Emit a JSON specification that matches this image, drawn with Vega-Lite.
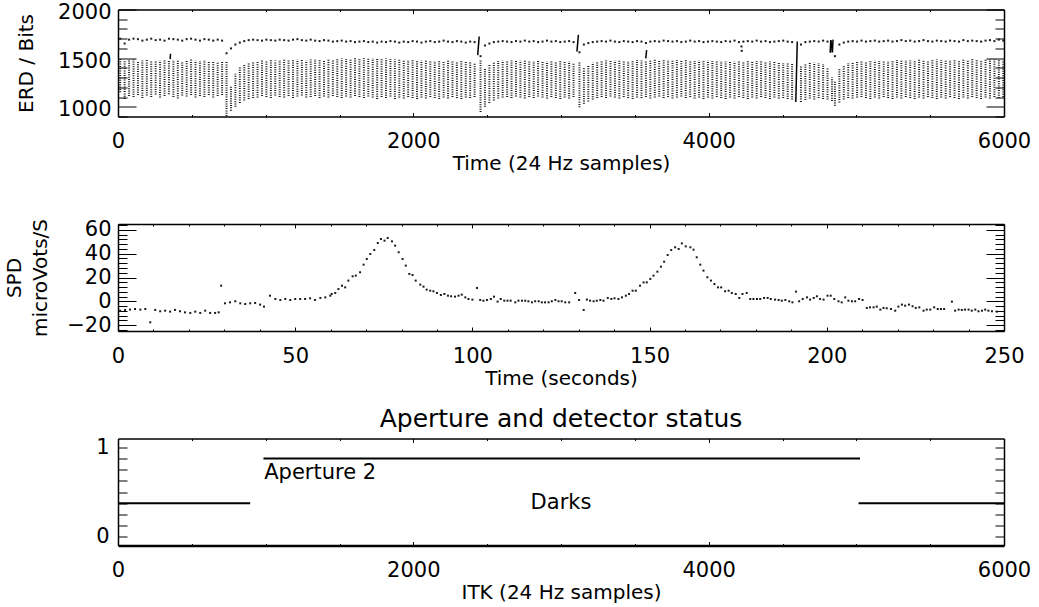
{
  "$schema": "https://vega.github.io/schema/vega-lite/v6.json",
  "padding": {"left": 4, "top": 1.5, "right": 5, "bottom": 5},
  "config": {
    "font": "DejaVu Sans",
    "view": {"stroke": null},
    "axis": {"grid": false, "domainColor": "#000", "domainWidth": 1.5, "tickColor": "#000", "tickWidth": 1, "labelColor": "#000", "titleColor": "#000", "labelFontSize": 21, "titleFontSize": 20, "titleFontWeight": "normal", "labelFont": "DejaVu Sans", "titleFont": "DejaVu Sans", "labelOverlap": false, "labelFlush": false, "labelBound": false},
    "title": {"fontSize": 25, "fontWeight": "normal", "font": "DejaVu Sans", "color": "#000"}
  },
  "spacing": 107.5,
  "bounds": "flush",
  "datasets": {
    "cols": [
      {"t":15,"hi":1490,"lo":1150},{"t":45,"hi":1470,"lo":1080},{"t":75,"hi":1480,"lo":1110},{"t":105,"hi":1485,"lo":1100},{"t":135,"hi":1470,"lo":1120},{"t":165,"hi":1475,"lo":1090},{"t":195,"hi":1480,"lo":1115},{"t":225,"hi":1470,"lo":1100},{"t":255,"hi":1465,"lo":1125},{"t":285,"hi":1475,"lo":1095},{"t":315,"hi":1480,"lo":1110},{"t":345,"hi":1470,"lo":1130},{"t":375,"hi":1480,"lo":1100},{"t":405,"hi":1475,"lo":1085},{"t":435,"hi":1470,"lo":1115},{"t":465,"hi":1480,"lo":1105},{"t":495,"hi":1485,"lo":1120},{"t":525,"hi":1475,"lo":1095},{"t":555,"hi":1470,"lo":1110},{"t":585,"hi":1480,"lo":1100},{"t":615,"hi":1475,"lo":1120},{"t":645,"hi":1470,"lo":1095},{"t":675,"hi":1465,"lo":1110},{"t":705,"hi":1460,"lo":1120},
      {"t":735,"hi":1460,"lo":905},{"t":765,"hi":1220,"lo":960},{"t":795,"hi":1340,"lo":1000},{"t":825,"hi":1410,"lo":1040},{"t":855,"hi":1440,"lo":1065},{"t":885,"hi":1455,"lo":1080},{"t":915,"hi":1465,"lo":1090},
      {"t":945,"hi":1470,"lo":1095},{"t":975,"hi":1475,"lo":1110},{"t":1005,"hi":1470,"lo":1100},{"t":1035,"hi":1480,"lo":1090},{"t":1065,"hi":1475,"lo":1115},{"t":1095,"hi":1480,"lo":1100},{"t":1125,"hi":1485,"lo":1095},{"t":1155,"hi":1475,"lo":1110},{"t":1185,"hi":1480,"lo":1090},{"t":1215,"hi":1485,"lo":1105},{"t":1245,"hi":1480,"lo":1115},{"t":1275,"hi":1475,"lo":1095},{"t":1305,"hi":1485,"lo":1100},{"t":1335,"hi":1490,"lo":1110},{"t":1365,"hi":1485,"lo":1090},{"t":1395,"hi":1480,"lo":1105},{"t":1425,"hi":1490,"lo":1095},{"t":1455,"hi":1485,"lo":1110},{"t":1485,"hi":1490,"lo":1100},{"t":1515,"hi":1495,"lo":1090},{"t":1545,"hi":1490,"lo":1105},{"t":1575,"hi":1495,"lo":1095},{"t":1605,"hi":1500,"lo":1110},{"t":1635,"hi":1495,"lo":1100},{"t":1665,"hi":1500,"lo":1090},{"t":1695,"hi":1495,"lo":1105},{"t":1725,"hi":1500,"lo":1095},{"t":1755,"hi":1495,"lo":1080},{"t":1785,"hi":1490,"lo":1100},{"t":1815,"hi":1495,"lo":1090},{"t":1845,"hi":1490,"lo":1105},{"t":1875,"hi":1485,"lo":1080},{"t":1905,"hi":1490,"lo":1095},{"t":1935,"hi":1485,"lo":1085},{"t":1965,"hi":1480,"lo":1100},{"t":1995,"hi":1485,"lo":1090},{"t":2025,"hi":1480,"lo":1080},{"t":2055,"hi":1475,"lo":1095},{"t":2085,"hi":1480,"lo":1085},{"t":2115,"hi":1475,"lo":1100},{"t":2145,"hi":1470,"lo":1090},{"t":2175,"hi":1475,"lo":1080},{"t":2205,"hi":1470,"lo":1095},{"t":2235,"hi":1475,"lo":1085},{"t":2265,"hi":1470,"lo":1100},{"t":2295,"hi":1465,"lo":1090},{"t":2325,"hi":1470,"lo":1080},{"t":2355,"hi":1465,"lo":1095},{"t":2385,"hi":1460,"lo":1090},{"t":2415,"hi":1455,"lo":1100},
      {"t":2455,"hi":1475,"lo":945},{"t":2485,"hi":1390,"lo":1000},{"t":2515,"hi":1440,"lo":1040},{"t":2545,"hi":1460,"lo":1065},{"t":2575,"hi":1470,"lo":1085},{"t":2605,"hi":1475,"lo":1095},{"t":2635,"hi":1470,"lo":1100},{"t":2665,"hi":1475,"lo":1090},{"t":2695,"hi":1470,"lo":1105},{"t":2725,"hi":1475,"lo":1095},{"t":2755,"hi":1480,"lo":1085},{"t":2785,"hi":1475,"lo":1100},{"t":2815,"hi":1470,"lo":1090},{"t":2845,"hi":1475,"lo":1105},{"t":2875,"hi":1470,"lo":1095},{"t":2905,"hi":1465,"lo":1085},{"t":2935,"hi":1470,"lo":1100},{"t":2965,"hi":1465,"lo":1090},{"t":2995,"hi":1470,"lo":1080},{"t":3025,"hi":1460,"lo":1095},{"t":3055,"hi":1465,"lo":1085},{"t":3085,"hi":1455,"lo":1100},
      {"t":3125,"hi":1460,"lo":995},{"t":3155,"hi":1400,"lo":1030},{"t":3185,"hi":1435,"lo":1055},{"t":3215,"hi":1455,"lo":1075},{"t":3245,"hi":1465,"lo":1090},{"t":3275,"hi":1470,"lo":1100},{"t":3305,"hi":1475,"lo":1090},{"t":3335,"hi":1470,"lo":1105},{"t":3365,"hi":1475,"lo":1095},{"t":3395,"hi":1480,"lo":1085},{"t":3425,"hi":1475,"lo":1100},{"t":3455,"hi":1470,"lo":1090},{"t":3485,"hi":1475,"lo":1080},{"t":3515,"hi":1480,"lo":1095},{"t":3545,"hi":1475,"lo":1090},{"t":3575,"hi":1470,"lo":1100},{"t":3605,"hi":1480,"lo":1085},{"t":3635,"hi":1485,"lo":1095},{"t":3665,"hi":1480,"lo":1105},{"t":3695,"hi":1485,"lo":1090},{"t":3725,"hi":1480,"lo":1100},{"t":3755,"hi":1485,"lo":1085},{"t":3785,"hi":1480,"lo":1095},{"t":3815,"hi":1475,"lo":1105},{"t":3845,"hi":1480,"lo":1090},{"t":3875,"hi":1475,"lo":1100},{"t":3905,"hi":1470,"lo":1085},{"t":3935,"hi":1475,"lo":1095},{"t":3965,"hi":1470,"lo":1080},{"t":3995,"hi":1475,"lo":1095},{"t":4025,"hi":1470,"lo":1085},{"t":4055,"hi":1475,"lo":1100},{"t":4085,"hi":1470,"lo":1090},{"t":4115,"hi":1465,"lo":1080},{"t":4145,"hi":1470,"lo":1095},{"t":4175,"hi":1465,"lo":1085},{"t":4205,"hi":1470,"lo":1100},{"t":4235,"hi":1465,"lo":1090},{"t":4265,"hi":1470,"lo":1080},{"t":4295,"hi":1465,"lo":1095},{"t":4325,"hi":1470,"lo":1085},{"t":4355,"hi":1465,"lo":1100},{"t":4385,"hi":1460,"lo":1090},{"t":4415,"hi":1465,"lo":1080},{"t":4445,"hi":1460,"lo":1095},{"t":4475,"hi":1455,"lo":1085},{"t":4505,"hi":1450,"lo":1090},{"t":4535,"hi":1445,"lo":1080},{"t":4565,"hi":1440,"lo":1075},
      {"t":4625,"hi":1420,"lo":1050},{"t":4655,"hi":1435,"lo":1070},{"t":4685,"hi":1450,"lo":1085},{"t":4715,"hi":1455,"lo":1075},{"t":4745,"hi":1450,"lo":1090},{"t":4775,"hi":1440,"lo":1080},{"t":4805,"hi":1400,"lo":1075},{"t":4835,"hi":1300,"lo":1060},{"t":4855,"hi":1270,"lo":1010},{"t":4885,"hi":1390,"lo":1045},{"t":4915,"hi":1430,"lo":1075},{"t":4945,"hi":1450,"lo":1090},{"t":4975,"hi":1460,"lo":1085},{"t":5005,"hi":1465,"lo":1095},
      {"t":5035,"hi":1470,"lo":1100},{"t":5065,"hi":1465,"lo":1090},{"t":5095,"hi":1470,"lo":1080},{"t":5125,"hi":1475,"lo":1095},{"t":5155,"hi":1470,"lo":1085},{"t":5185,"hi":1475,"lo":1100},{"t":5215,"hi":1470,"lo":1090},{"t":5245,"hi":1475,"lo":1080},{"t":5275,"hi":1480,"lo":1095},{"t":5305,"hi":1475,"lo":1085},{"t":5335,"hi":1480,"lo":1100},{"t":5365,"hi":1475,"lo":1090},{"t":5395,"hi":1480,"lo":1080},{"t":5425,"hi":1485,"lo":1095},{"t":5455,"hi":1480,"lo":1085},{"t":5485,"hi":1475,"lo":1100},{"t":5515,"hi":1480,"lo":1090},{"t":5545,"hi":1485,"lo":1080},{"t":5575,"hi":1480,"lo":1095},{"t":5605,"hi":1475,"lo":1085},{"t":5635,"hi":1480,"lo":1100},{"t":5665,"hi":1485,"lo":1090},{"t":5695,"hi":1480,"lo":1080},{"t":5725,"hi":1485,"lo":1095},{"t":5755,"hi":1480,"lo":1085},{"t":5785,"hi":1490,"lo":1100},{"t":5815,"hi":1485,"lo":1090},{"t":5845,"hi":1480,"lo":1080},{"t":5875,"hi":1485,"lo":1095},{"t":5905,"hi":1490,"lo":1085},{"t":5935,"hi":1485,"lo":1100},{"t":5965,"hi":1490,"lo":1090},{"t":5995,"hi":1480,"lo":1100}
    ],
    "dots": [
      {"t":15,"v":1700},{"t":45,"v":1650},{"t":75,"v":1690},{"t":105,"v":1700},{"t":135,"v":1695},{"t":165,"v":1680},{"t":195,"v":1690},{"t":225,"v":1700},{"t":255,"v":1685},{"t":285,"v":1690},{"t":315,"v":1680},{"t":345,"v":1700},{"t":375,"v":1695},{"t":405,"v":1690},{"t":435,"v":1680},{"t":465,"v":1695},{"t":495,"v":1700},{"t":525,"v":1690},{"t":555,"v":1680},{"t":585,"v":1695},{"t":615,"v":1690},{"t":645,"v":1680},{"t":675,"v":1690},{"t":705,"v":1680},
      {"t":735,"v":1550},{"t":765,"v":1600},{"t":795,"v":1640},{"t":825,"v":1660},{"t":855,"v":1675},{"t":885,"v":1685},{"t":915,"v":1690},
      {"t":945,"v":1685},{"t":975,"v":1680},{"t":1005,"v":1690},{"t":1035,"v":1685},{"t":1065,"v":1680},{"t":1095,"v":1690},{"t":1125,"v":1685},{"t":1155,"v":1680},{"t":1185,"v":1690},{"t":1215,"v":1695},{"t":1245,"v":1685},{"t":1275,"v":1680},{"t":1305,"v":1690},{"t":1335,"v":1680},{"t":1365,"v":1675},{"t":1395,"v":1685},{"t":1425,"v":1680},{"t":1455,"v":1670},{"t":1485,"v":1675},{"t":1515,"v":1680},{"t":1545,"v":1670},{"t":1575,"v":1675},{"t":1605,"v":1665},{"t":1635,"v":1670},{"t":1665,"v":1675},{"t":1695,"v":1665},{"t":1725,"v":1670},{"t":1755,"v":1660},{"t":1785,"v":1670},{"t":1815,"v":1665},{"t":1845,"v":1675},{"t":1875,"v":1670},{"t":1905,"v":1660},{"t":1935,"v":1670},{"t":1965,"v":1665},{"t":1995,"v":1675},{"t":2025,"v":1670},{"t":2055,"v":1660},{"t":2085,"v":1670},{"t":2115,"v":1675},{"t":2145,"v":1665},{"t":2175,"v":1670},{"t":2205,"v":1680},{"t":2235,"v":1670},{"t":2265,"v":1665},{"t":2295,"v":1675},{"t":2325,"v":1670},{"t":2355,"v":1660},{"t":2385,"v":1670},{"t":2415,"v":1665},
      {"t":2455,"v":1520},{"t":2485,"v":1630},{"t":2515,"v":1650},{"t":2545,"v":1665},{"t":2575,"v":1670},{"t":2605,"v":1675},{"t":2635,"v":1670},{"t":2665,"v":1665},{"t":2695,"v":1675},{"t":2725,"v":1670},{"t":2755,"v":1680},{"t":2785,"v":1670},{"t":2815,"v":1675},{"t":2845,"v":1665},{"t":2875,"v":1670},{"t":2905,"v":1680},{"t":2935,"v":1670},{"t":2965,"v":1675},{"t":2995,"v":1665},{"t":3025,"v":1670},{"t":3055,"v":1675},{"t":3085,"v":1665},
      {"t":3125,"v":1560},{"t":3155,"v":1640},{"t":3185,"v":1655},{"t":3215,"v":1665},{"t":3245,"v":1670},{"t":3275,"v":1675},{"t":3305,"v":1670},{"t":3335,"v":1680},{"t":3365,"v":1670},{"t":3395,"v":1665},{"t":3425,"v":1675},{"t":3455,"v":1670},{"t":3485,"v":1665},{"t":3515,"v":1675},{"t":3545,"v":1670},{"t":3575,"v":1655},{"t":3605,"v":1670},{"t":3635,"v":1675},{"t":3665,"v":1670},{"t":3695,"v":1680},{"t":3725,"v":1675},{"t":3755,"v":1670},{"t":3785,"v":1675},{"t":3815,"v":1665},{"t":3845,"v":1670},{"t":3875,"v":1680},{"t":3905,"v":1670},{"t":3935,"v":1675},{"t":3965,"v":1665},{"t":3995,"v":1670},{"t":4025,"v":1675},{"t":4055,"v":1670},{"t":4085,"v":1665},{"t":4115,"v":1675},{"t":4145,"v":1670},{"t":4175,"v":1680},{"t":4205,"v":1665},{"t":4222,"v":1620},{"t":4224,"v":1575},{"t":4235,"v":1670},{"t":4265,"v":1675},{"t":4295,"v":1670},{"t":4325,"v":1680},{"t":4355,"v":1670},{"t":4385,"v":1675},{"t":4415,"v":1665},{"t":4445,"v":1670},{"t":4475,"v":1675},{"t":4505,"v":1680},{"t":4535,"v":1670},{"t":4565,"v":1665},
      {"t":4625,"v":1640},{"t":4655,"v":1665},{"t":4685,"v":1670},{"t":4715,"v":1675},{"t":4745,"v":1670},{"t":4775,"v":1680},{"t":4805,"v":1670},{"t":4855,"v":1520},{"t":4885,"v":1640},{"t":4915,"v":1660},{"t":4945,"v":1670},{"t":4975,"v":1675},{"t":5005,"v":1670},
      {"t":5035,"v":1680},{"t":5065,"v":1670},{"t":5095,"v":1675},{"t":5125,"v":1680},{"t":5155,"v":1670},{"t":5185,"v":1675},{"t":5215,"v":1680},{"t":5245,"v":1670},{"t":5275,"v":1675},{"t":5305,"v":1685},{"t":5335,"v":1675},{"t":5365,"v":1680},{"t":5395,"v":1670},{"t":5425,"v":1675},{"t":5455,"v":1685},{"t":5485,"v":1675},{"t":5515,"v":1670},{"t":5545,"v":1680},{"t":5575,"v":1675},{"t":5605,"v":1670},{"t":5635,"v":1680},{"t":5665,"v":1675},{"t":5695,"v":1670},{"t":5725,"v":1685},{"t":5755,"v":1675},{"t":5785,"v":1680},{"t":5815,"v":1675},{"t":5845,"v":1670},{"t":5875,"v":1680},{"t":5905,"v":1685},{"t":5935,"v":1675},{"t":5965,"v":1690},{"t":5995,"v":1680}
    ],
    "spikes": [
      {"t1":353,"t2":356,"v1":1490,"v2":1545},
      {"t1":2436,"t2":2446,"v1":1531,"v2":1723},
      {"t1":3108,"t2":3118,"v1":1567,"v2":1740},
      {"t1":3574,"t2":3580,"v1":1497,"v2":1583},
      {"t1":4590,"t2":4600,"v1":1050,"v2":1672},
      {"t1":4823,"t2":4827,"v1":1555,"v2":1685},
      {"t1":4827,"t2":4838,"v1":1685,"v2":1560},
      {"t1":4838,"t2":4842,"v1":1560,"v2":1690}
    ],
    "spd": [
      {"s":0.6,"v":-7.9},{"s":2.0,"v":-7.3},{"s":3.4,"v":-7.0},{"s":4.8,"v":-6.5},{"s":6.3,"v":-7.0},{"s":7.7,"v":-6.5},{"s":9.1,"v":-17.7},{"s":10.5,"v":-7.3},{"s":11.9,"v":-8.4},{"s":13.3,"v":-7.9},{"s":14.7,"v":-8.7},{"s":16.1,"v":-7.3},{"s":17.5,"v":-8.4},{"s":18.9,"v":-9.3},{"s":20.4,"v":-9.8},{"s":21.8,"v":-8.7},{"s":23.2,"v":-9.8},{"s":24.6,"v":-7.9},{"s":26.0,"v":-9.8},{"s":27.4,"v":-9.8},{"s":28.4,"v":-9.3},{"s":29.1,"v":13.1},
      {"s":30.2,"v":-1.7},{"s":31.6,"v":-0.9},{"s":33.1,"v":0.0},{"s":34.5,"v":-1.7},{"s":35.9,"v":-2.3},{"s":37.3,"v":-1.7},{"s":38.7,"v":-1.4},{"s":40.1,"v":-2.8},{"s":41.2,"v":-4.5},{"s":42.9,"v":4.7},{"s":44.4,"v":1.9},{"s":45.8,"v":1.1},{"s":47.2,"v":1.9},{"s":48.6,"v":1.1},{"s":50.0,"v":1.9},{"s":51.4,"v":1.9},{"s":52.8,"v":1.9},{"s":54.2,"v":2.5},{"s":55.6,"v":1.1},{"s":57.1,"v":2.8},{"s":58.5,"v":3.3},{"s":59.9,"v":4.7},
      {"s":60.3,"v":6.1},{"s":61.3,"v":7.0},{"s":62.2,"v":10.3},{"s":63.2,"v":13.1},{"s":64.1,"v":11.7},{"s":65.0,"v":17.4},{"s":66.2,"v":21.0},{"s":67.1,"v":21.6},{"s":68.3,"v":24.4},{"s":69.3,"v":30.8},{"s":70.2,"v":35.6},{"s":71.2,"v":39.8},{"s":72.3,"v":43.1},{"s":73.3,"v":49.0},{"s":74.2,"v":52.4},{"s":75.2,"v":51.0},{"s":76.1,"v":53.2},{"s":77.3,"v":50.4},{"s":78.2,"v":46.8},{"s":79.2,"v":41.2},{"s":80.3,"v":35.6},{"s":81.2,"v":30.0},{"s":82.2,"v":23.0},{"s":83.1,"v":22.1},{"s":84.0,"v":17.4},{"s":85.3,"v":14.0},{"s":86.2,"v":12.3},{"s":87.1,"v":9.8},{"s":88.1,"v":8.9},{"s":89.0,"v":8.4},{"s":90.0,"v":7.0},{"s":91.1,"v":5.3},{"s":92.1,"v":6.1},{"s":93.1,"v":4.7},{"s":94.0,"v":4.2},{"s":95.1,"v":3.9},{"s":96.1,"v":4.7},{"s":97.0,"v":5.6},{"s":98.0,"v":3.3},{"s":98.9,"v":1.9},{"s":100.0,"v":1.4},{"s":101.3,"v":11.2},{"s":102.2,"v":1.1},{"s":103.1,"v":0.5},{"s":104.1,"v":1.1},{"s":105.2,"v":1.9},{"s":106.1,"v":3.9},{"s":107.1,"v":-0.3},{"s":108.0,"v":1.9},{"s":109.0,"v":0.5},{"s":109.9,"v":0.5},{"s":110.8,"v":0.5},{"s":112.1,"v":-0.9},{"s":113.0,"v":0.5},{"s":114.0,"v":0.5},{"s":114.9,"v":0.5},{"s":115.8,"v":0.0},{"s":116.8,"v":-0.9},{"s":117.7,"v":0.0},{"s":118.7,"v":0.0},{"s":119.6,"v":-0.9},{"s":120.5,"v":-0.9},{"s":121.5,"v":-0.9},{"s":122.4,"v":0.0},{"s":123.4,"v":1.1},{"s":124.3,"v":0.0},{"s":125.2,"v":0.0},{"s":126.2,"v":-0.9},{"s":127.3,"v":-0.9},{"s":129.0,"v":7.0},{"s":130.1,"v":1.1},{"s":131.4,"v":-7.3},{"s":132.3,"v":1.4},{"s":133.2,"v":0.5},{"s":134.2,"v":0.0},{"s":135.1,"v":0.5},{"s":136.1,"v":1.1},{"s":137.0,"v":0.5},{"s":138.2,"v":2.8},{"s":139.2,"v":1.9},{"s":140.1,"v":2.5},{"s":141.2,"v":1.9},{"s":142.2,"v":3.3},{"s":143.3,"v":4.7},{"s":144.2,"v":6.1},{"s":145.2,"v":8.9},{"s":146.1,"v":8.9},{"s":147.3,"v":13.1},{"s":148.3,"v":15.9},{"s":149.2,"v":15.9},{"s":150.2,"v":18.8},{"s":151.1,"v":21.6},{"s":152.2,"v":24.9},{"s":153.2,"v":29.1},{"s":154.1,"v":33.3},{"s":155.1,"v":38.9},{"s":156.1,"v":43.1},{"s":157.2,"v":45.4},{"s":158.2,"v":44.0},
      {"s":159.1,"v":48.7},{"s":160.2,"v":46.2},{"s":161.5,"v":45.4},{"s":162.4,"v":43.4},{"s":163.3,"v":37.0},{"s":164.3,"v":30.8},{"s":165.2,"v":25.8},{"s":166.3,"v":20.2},{"s":167.3,"v":17.4},{"s":168.3,"v":14.5},{"s":169.3,"v":11.7},{"s":170.2,"v":11.7},{"s":171.3,"v":8.4},{"s":172.3,"v":8.9},{"s":173.2,"v":7.0},{"s":174.3,"v":6.1},{"s":175.3,"v":2.8},{"s":176.2,"v":6.1},{"s":177.4,"v":7.0},{"s":178.4,"v":1.9},{"s":179.3,"v":1.9},{"s":180.3,"v":1.9},{"s":181.2,"v":1.9},{"s":182.3,"v":2.8},{"s":183.3,"v":2.8},{"s":184.2,"v":1.9},{"s":185.4,"v":1.4},{"s":186.4,"v":1.1},{"s":187.3,"v":0.5},{"s":188.3,"v":1.1},{"s":189.4,"v":0.0},{"s":190.3,"v":-0.9},{"s":191.3,"v":8.1},{"s":192.2,"v":0.0},{"s":193.2,"v":1.9},{"s":194.4,"v":3.3},{"s":195.3,"v":1.4},{"s":196.3,"v":2.8},{"s":197.2,"v":4.2},{"s":198.1,"v":1.9},{"s":199.1,"v":1.4},{"s":200.2,"v":4.7},{"s":201.1,"v":4.7},{"s":202.1,"v":1.9},{"s":203.3,"v":0.0},{"s":204.2,"v":-0.9},{"s":205.2,"v":3.3},{"s":206.1,"v":0.5},{"s":207.1,"v":0.0},{"s":208.0,"v":0.0},{"s":209.1,"v":1.9},{"s":210.1,"v":1.1},
      {"s":211.3,"v":-5.6},{"s":212.2,"v":-5.1},{"s":213.2,"v":-5.1},{"s":214.1,"v":-4.5},{"s":215.1,"v":-7.0},{"s":216.0,"v":-5.6},{"s":216.9,"v":-5.9},{"s":218.1,"v":-6.5},{"s":219.3,"v":-7.9},{"s":220.2,"v":-4.5},{"s":221.2,"v":-2.8},{"s":222.1,"v":-3.7},{"s":223.2,"v":-2.8},{"s":224.2,"v":-4.2},{"s":225.1,"v":-5.6},{"s":226.1,"v":-5.1},{"s":227.3,"v":-7.9},{"s":228.2,"v":-7.0},{"s":229.2,"v":-7.0},{"s":230.3,"v":-5.1},{"s":231.3,"v":-6.5},{"s":232.2,"v":-6.5},{"s":233.1,"v":-6.5},{"s":235.3,"v":-0.3},{"s":236.2,"v":-7.9},{"s":237.2,"v":-7.0},{"s":238.1,"v":-7.3},{"s":239.0,"v":-7.0},{"s":240.0,"v":-7.0},{"s":240.9,"v":-7.9},{"s":241.9,"v":-7.0},{"s":242.8,"v":-8.4},{"s":243.8,"v":-7.9},{"s":244.7,"v":-7.0},{"s":245.6,"v":-7.9},{"s":246.6,"v":-8.4},{"s":248.0,"v":-8.7}
    ],
    "lines3": [
      {"x1":0,"x2":895,"y":0.375},
      {"x1":985,"x2":5025,"y":0.875},
      {"x1":5015,"x2":6000,"y":0.375}
    ],
    "lab1": [{"x":990,"y":0.714,"text":"Aperture 2"}],
    "lab2": [{"x":3000,"y":0.378,"text":"Darks"}]
  },
  "vconcat": [
    {
      "width": 886,
      "height": 107,
      "resolve": {"axis": {"x": "independent", "y": "independent"}},
      "layer": [
        {
          "data": {"name": "cols"},
          "mark": {"type": "rule", "strokeWidth": 2, "strokeDash": [1, 1.3], "color": "#1a1a1a"},
          "encoding": {
            "x": {"field": "t", "type": "quantitative", "scale": {"domain": [0, 6000], "nice": false, "zero": false},
              "axis": {"orient": "bottom", "values": [0,500,1000,1500,2000,2500,3000,3500,4000,4500,5000,5500,6000], "format": "d", "labelExpr": "datum.value % 2000 === 0 ? datum.label : ''", "tickSize": {"condition": {"test": "datum.value % 2000 === 0", "value": -4}, "value": -2}, "labelPadding": 18, "title": "Time (24 Hz samples)", "titlePadding": 0}},
            "y": {"field": "lo", "type": "quantitative", "scale": {"domain": [900, 2000], "nice": false, "zero": false},
              "axis": {"orient": "left", "values": [900,1000,1100,1200,1300,1400,1500,1600,1700,1800,1900,2000], "format": "d", "labelExpr": "datum.value % 500 === 0 ? datum.label : ''", "tickSize": {"condition": {"test": "datum.value % 500 === 0", "value": -18}, "value": -9}, "labelPadding": 25, "labelOffset": 3, "title": "ERD / Bits", "titlePadding": 21}},
            "y2": {"field": "hi"}
          }
        },
        {
          "data": {"name": "dots"},
          "mark": {"type": "square", "size": 4, "color": "#1a1a1a", "opacity": 1},
          "encoding": {
            "x": {"field": "t", "type": "quantitative", "axis": {"orient": "top", "values": [0,500,1000,1500,2000,2500,3000,3500,4000,4500,5000,5500,6000], "labels": false, "title": null, "tickSize": {"condition": {"test": "datum.value % 2000 === 0", "value": -4}, "value": -2}}},
            "y": {"field": "v", "type": "quantitative", "axis": {"orient": "right", "values": [900,1000,1100,1200,1300,1400,1500,1600,1700,1800,1900,2000], "labels": false, "title": null, "tickSize": {"condition": {"test": "datum.value % 500 === 0", "value": -18}, "value": -9}}}
          }
        },
        {
          "data": {"name": "spikes"},
          "mark": {"type": "rule", "strokeWidth": 1.5, "color": "#000"},
          "encoding": {
            "x": {"field": "t1", "type": "quantitative", "axis": null},
            "x2": {"field": "t2"},
            "y": {"field": "v1", "type": "quantitative", "axis": null},
            "y2": {"field": "v2"}
          }
        }
      ]
    },
    {
      "width": 886,
      "height": 107,
      "resolve": {"axis": {"x": "independent", "y": "independent"}},
      "layer": [
        {
          "data": {"name": "spd"},
          "mark": {"type": "square", "size": 4, "color": "#1a1a1a", "opacity": 1},
          "encoding": {
            "x": {"field": "s", "type": "quantitative", "scale": {"domain": [0, 250], "nice": false, "zero": false},
              "axis": {"orient": "bottom", "values": [0,10,20,30,40,50,60,70,80,90,100,110,120,130,140,150,160,170,180,190,200,210,220,230,240,250], "format": "d", "labelExpr": "datum.value % 50 === 0 ? datum.label : ''", "tickSize": {"condition": {"test": "datum.value % 50 === 0", "value": -4}, "value": -2}, "labelPadding": 18, "title": "Time (seconds)", "titlePadding": 0}},
            "y": {"field": "v", "type": "quantitative", "scale": {"domain": [-25, 65], "nice": false, "zero": false},
              "axis": {"orient": "left", "values": [-24,-20,-16,-12,-8,-4,0,4,8,12,16,20,24,28,32,36,40,44,48,52,56,60,64], "format": "d", "labelExpr": "datum.value % 20 === 0 ? datum.label : ''", "tickSize": {"condition": {"test": "datum.value % 20 === 0", "value": -18}, "value": -9}, "labelPadding": 25, "title": ["SPD", "microVots/S"], "titleLineHeight": 26, "titlePadding": 16.5}}
          }
        },
        {
          "data": {"name": "spd"},
          "mark": {"type": "square", "size": 4, "color": "#1a1a1a", "opacity": 0},
          "encoding": {
            "x": {"field": "s", "type": "quantitative", "axis": {"orient": "top", "values": [0,10,20,30,40,50,60,70,80,90,100,110,120,130,140,150,160,170,180,190,200,210,220,230,240,250], "labels": false, "title": null, "tickSize": {"condition": {"test": "datum.value % 50 === 0", "value": -4}, "value": -2}}},
            "y": {"field": "v", "type": "quantitative", "axis": {"orient": "right", "values": [-24,-20,-16,-12,-8,-4,0,4,8,12,16,20,24,28,32,36,40,44,48,52,56,60,64], "labels": false, "title": null, "tickSize": {"condition": {"test": "datum.value % 20 === 0", "value": -18}, "value": -9}}}
          }
        }
      ]
    },
    {
      "width": 886,
      "height": 107,
      "title": {"text": "Aperture and detector status", "frame": "group", "anchor": "middle", "offset": 4},
      "resolve": {"axis": {"x": "independent", "y": "independent"}},
      "layer": [
        {
          "data": {"name": "lines3"},
          "mark": {"type": "rule", "strokeWidth": 2, "color": "#000"},
          "encoding": {
            "x": {"field": "x1", "type": "quantitative", "scale": {"domain": [0, 6000], "nice": false, "zero": false},
              "axis": {"orient": "bottom", "values": [0,500,1000,1500,2000,2500,3000,3500,4000,4500,5000,5500,6000], "format": "d", "labelExpr": "datum.value % 2000 === 0 ? datum.label : ''", "tickSize": {"condition": {"test": "datum.value % 2000 === 0", "value": -4}, "value": -2}, "labelPadding": 18, "title": "ITK (24 Hz samples)", "titlePadding": 0, "domainWidth": 2.5}},
            "x2": {"field": "x2"},
            "y": {"field": "y", "type": "quantitative", "scale": {"domain": [-0.1, 1.1], "nice": false, "zero": false},
              "axis": {"orient": "left", "values": [0,0.125,0.25,0.375,0.5,0.625,0.75,0.875,1], "format": "~g", "labelExpr": "datum.value === 0 || datum.value === 1 ? datum.label : ''", "tickSize": -9, "labelPadding": 18, "title": null}}
          }
        },
        {
          "data": {"name": "lab1"},
          "mark": {"type": "text", "align": "left", "baseline": "middle", "fontSize": 21, "color": "#000"},
          "encoding": {
            "x": {"field": "x", "type": "quantitative", "axis": {"orient": "top", "values": [0,500,1000,1500,2000,2500,3000,3500,4000,4500,5000,5500,6000], "labels": false, "title": null, "tickSize": {"condition": {"test": "datum.value % 2000 === 0", "value": -4}, "value": -2}}},
            "y": {"field": "y", "type": "quantitative", "axis": {"orient": "right", "values": [0,0.125,0.25,0.375,0.5,0.625,0.75,0.875,1], "labels": false, "title": null, "tickSize": -9}},
            "text": {"field": "text"}
          }
        },
        {
          "data": {"name": "lab2"},
          "mark": {"type": "text", "align": "center", "baseline": "middle", "fontSize": 21, "color": "#000"},
          "encoding": {
            "x": {"field": "x", "type": "quantitative", "axis": null},
            "y": {"field": "y", "type": "quantitative", "axis": null},
            "text": {"field": "text"}
          }
        }
      ]
    }
  ]
}
